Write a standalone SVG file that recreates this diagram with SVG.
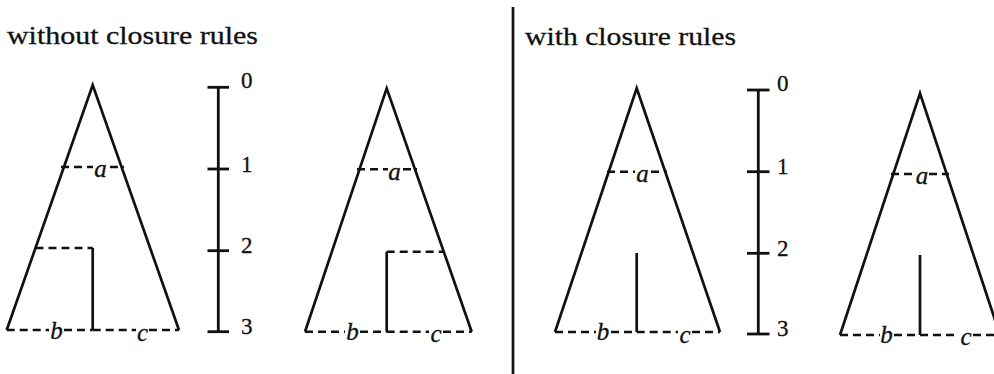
<svg xmlns="http://www.w3.org/2000/svg" width="994" height="374" viewBox="0 0 994 374">
<style>
.bg{fill:#ffffff}
.solid{fill:none;stroke:#111;stroke-width:2.7;stroke-linejoin:miter;stroke-linecap:butt}
.dash{fill:none;stroke:#111;stroke-width:2.5;stroke-dasharray:8 5}
.scale{fill:none;stroke:#111;stroke-width:2.8}
.title{font-family:"Liberation Serif","Times New Roman",serif;font-size:26px;fill:#111;stroke:#111;stroke-width:0.3}
.num{font-family:"Liberation Serif","Times New Roman",serif;font-size:23px;fill:#111;stroke:#111;stroke-width:0.3}
.lbl{font-family:"Liberation Serif","Times New Roman",serif;font-style:italic;font-size:25px;fill:#111;text-anchor:middle;stroke:#111;stroke-width:0.3}
</style>
<rect class="bg" x="0" y="0" width="994" height="374"/>

<text class="title" x="7" y="44" textLength="251" lengthAdjust="spacingAndGlyphs">without closure rules</text>
<text class="title" x="525" y="45" textLength="211" lengthAdjust="spacingAndGlyphs">with closure rules</text>

<g id="divider">
<line class="solid" x1="513" y1="7" x2="513" y2="374"/>
</g>

<g id="tree1">
<polyline class="solid" points="6.7,330 92.7,85 179,330"/>
<line class="dash" x1="61" y1="167" x2="93" y2="167"/>
<line class="dash" x1="110" y1="167" x2="124" y2="167"/>
<text class="lbl" x="100.5" y="177">a</text>
<line class="dash" x1="35.5" y1="248" x2="92.7" y2="248"/>
<line class="solid" x1="92.7" y1="248" x2="92.7" y2="330"/>
<line class="dash" x1="6.7" y1="330" x2="49" y2="330"/>
<line class="dash" x1="64" y1="330" x2="92.7" y2="330"/>
<line class="dash" x1="92.7" y1="330" x2="136" y2="330"/>
<line class="dash" x1="149" y1="330" x2="179" y2="330"/>
<text class="lbl" x="56.5" y="339">b</text>
<text class="lbl" x="142.5" y="341">c</text>
</g>

<g id="scale1">
<line class="scale" x1="218.3" y1="87.3" x2="218.3" y2="331.7"/>
<line class="scale" x1="207.5" y1="87.3" x2="229" y2="87.3"/>
<line class="scale" x1="207.5" y1="169" x2="229" y2="169"/>
<line class="scale" x1="207.5" y1="250.7" x2="229" y2="250.7"/>
<line class="scale" x1="207.5" y1="331.7" x2="229" y2="331.7"/>
<text class="num" x="241" y="88">0</text>
<text class="num" x="241" y="172">1</text>
<text class="num" x="241" y="253">2</text>
<text class="num" x="241" y="334">3</text>
</g>

<g id="tree2">
<polyline class="solid" points="305,331.7 386.7,88.3 471.7,331.7"/>
<line class="dash" x1="357" y1="169.3" x2="388" y2="169.3"/>
<line class="dash" x1="403" y1="169.3" x2="417" y2="169.3"/>
<text class="lbl" x="394.5" y="179.5">a</text>
<line class="solid" x1="386.7" y1="251.7" x2="386.7" y2="331.7"/>
<line class="dash" x1="386.7" y1="251.7" x2="443.7" y2="251.7"/>
<line class="dash" x1="305" y1="331.7" x2="345" y2="331.7"/>
<line class="dash" x1="360" y1="331.7" x2="386.7" y2="331.7"/>
<line class="dash" x1="386.7" y1="331.7" x2="429" y2="331.7"/>
<line class="dash" x1="443" y1="331.7" x2="471.7" y2="331.7"/>
<text class="lbl" x="352.5" y="339.5">b</text>
<text class="lbl" x="436" y="342">c</text>
</g>

<g id="tree3">
<polyline class="solid" points="555,332 636.7,88.3 720,332"/>
<line class="dash" x1="607" y1="171.7" x2="635" y2="171.7"/>
<line class="dash" x1="651" y1="171.7" x2="667" y2="171.7"/>
<text class="lbl" x="642.5" y="182">a</text>
<line class="solid" x1="636.7" y1="253" x2="636.7" y2="332"/>
<line class="dash" x1="555" y1="332" x2="596" y2="332"/>
<line class="dash" x1="611" y1="332" x2="636.7" y2="332"/>
<line class="dash" x1="636.7" y1="332" x2="678" y2="332"/>
<line class="dash" x1="692" y1="332" x2="720" y2="332"/>
<text class="lbl" x="603" y="340">b</text>
<text class="lbl" x="685" y="342.5">c</text>
</g>

<g id="scale2">
<line class="scale" x1="758.3" y1="90" x2="758.3" y2="334"/>
<line class="scale" x1="747" y1="90" x2="769.5" y2="90"/>
<line class="scale" x1="747" y1="171.7" x2="769.5" y2="171.7"/>
<line class="scale" x1="747" y1="253.3" x2="769.5" y2="253.3"/>
<line class="scale" x1="747" y1="334" x2="769.5" y2="334"/>
<text class="num" x="777" y="91">0</text>
<text class="num" x="777" y="174">1</text>
<text class="num" x="777" y="256">2</text>
<text class="num" x="777" y="336">3</text>
</g>

<g id="tree4">
<polyline class="solid" points="840,335 920,93.3 1000,335"/>
<line class="dash" x1="891" y1="174" x2="915" y2="174"/>
<line class="dash" x1="929" y1="174" x2="949" y2="174"/>
<text class="lbl" x="922" y="184">a</text>
<line class="solid" x1="920" y1="255" x2="920" y2="335"/>
<line class="dash" x1="840" y1="335" x2="880" y2="335"/>
<line class="dash" x1="894" y1="335" x2="920" y2="335"/>
<line class="dash" x1="920" y1="335" x2="959" y2="335"/>
<line class="dash" x1="973" y1="335" x2="994" y2="335"/>
<text class="lbl" x="886.5" y="343">b</text>
<text class="lbl" x="966" y="345">c</text>
</g>
</svg>
